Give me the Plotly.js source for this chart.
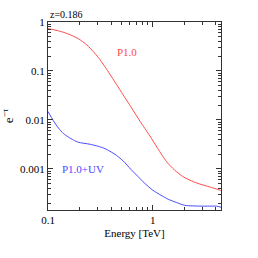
<!DOCTYPE html>
<html><head><meta charset="utf-8">
<script src="https://cdn.plot.ly/plotly-3.0.1.min.js"></script>
<style>html,body{margin:0;padding:0;background:#fff}</style>
</head><body><div id="chart" style="width:258px;height:258px"></div>
<script>
const energyRed = [0.1, 0.126, 0.156, 0.195, 0.235, 0.279, 0.314, 0.36, 0.405, 0.453, 0.52, 0.585, 0.653, 0.76, 0.942, 1.12, 1.36, 1.62, 1.96, 2.35, 2.83, 3.5, 4.38, 4.5];
const tauRed = [0.73, 0.66, 0.57, 0.457, 0.34, 0.232, 0.17, 0.112, 0.076, 0.0525, 0.033, 0.0224, 0.0155, 0.0093, 0.0047, 0.0026, 0.0014, 0.00095, 0.00069, 0.00057, 0.00049, 0.00043, 0.00037, 0.00036];
const energyBlue = [0.1, 0.112, 0.126, 0.14, 0.156, 0.175, 0.195, 0.25, 0.302, 0.35, 0.39, 0.45, 0.524, 0.62, 0.72, 0.83, 1.0, 1.2, 1.41, 1.7, 2.03, 2.4, 2.83, 3.5, 4.08, 4.5];
const tauBlue = [0.0149, 0.0098, 0.0068, 0.0053, 0.0045, 0.0039, 0.0035, 0.0032, 0.0029, 0.0026, 0.0023, 0.0019, 0.00145, 0.00098, 0.00071, 0.00052, 0.00037, 0.00029, 0.00024, 0.000205, 0.00018, 0.000176, 0.000174, 0.000174, 0.000174, 0.000165];
const xTickVals = [0.1, 1];
const xTickText = ['0.1', '1'];
const yTickVals = [1, 0.1, 0.01, 0.001];
const yTickText = ['1', '0.1', '0.01', '0.001'];
const xMinor = [0.2,0.3,0.4,0.5,0.6,0.7,0.8,0.9,2,3,4];
const yMinor = [2e-4,3e-4,4e-4,5e-4,6e-4,7e-4,8e-4,9e-4,0.002,0.003,0.004,0.005,0.006,0.007,0.008,0.009,0.02,0.03,0.04,0.05,0.06,0.07,0.08,0.09,0.2,0.3,0.4,0.5,0.6,0.7,0.8,0.9];

const font = {family: 'Liberation Serif, serif', size: 11, color: '#000'};
const traces = [
  {x: energyRed, y: tauRed, mode: 'lines', line: {color: '#ff4a4a', width: 1, shape: 'spline', smoothing: 0.6}, hoverinfo: 'skip'},
  {x: energyBlue, y: tauBlue, mode: 'lines', line: {color: '#4a4aff', width: 1, shape: 'spline', smoothing: 0.6}, hoverinfo: 'skip'}
];
const axisCommon = {
  type: 'log', showgrid: false, zeroline: false, showline: true, linecolor: '#333', linewidth: 1,
  mirror: 'allticks', ticks: 'inside', ticklen: 5, tickcolor: '#333', tickwidth: 1,
  tickmode: 'array', tickfont: font
};
const layout = {
  width: 258, height: 258,
  margin: {l: 48, r: 37, t: 22, b: 48},
  paper_bgcolor: '#fff', plot_bgcolor: '#fff',
  showlegend: false,
  font: font,
  xaxis: Object.assign({}, axisCommon, {
    range: [-1, Math.log10(4.5)], tickvals: xTickVals, ticktext: xTickText,
    minor: {tickmode: 'array', tickvals: xMinor, ticks: 'inside', ticklen: 3, tickcolor: '#333'},
    title: {text: 'Energy [TeV]', font: font, standoff: 4}
  }),
  yaxis: Object.assign({}, axisCommon, {
    range: [Math.log10(1.45e-4), 0], tickvals: yTickVals, ticktext: yTickText,
    minor: {tickmode: 'array', tickvals: yMinor, ticks: 'inside', ticklen: 3, tickcolor: '#333'},
    title: {text: 'e<sup>−τ</sup>', font: {family: 'Liberation Serif, serif', size: 13, color: '#000'}, standoff: 5}
  }),
  annotations: [
    {xref: 'paper', yref: 'paper', x: 0, y: 1, xanchor: 'left', yanchor: 'bottom', yshift: 0, text: 'z=0.186', showarrow: false, font: {family: 'Liberation Serif, serif', size: 10, color: '#000'}},
    {xref: 'x', yref: 'y', x: -0.245, y: -0.607, text: 'P1.0', showarrow: false, font: {family: 'Liberation Serif, serif', size: 11, color: '#ff4a4a'}},
    {xref: 'x', yref: 'y', x: -0.666, y: -3.0, text: 'P1.0+UV', showarrow: false, font: {family: 'Liberation Serif, serif', size: 11, color: '#4a4aff'}}
  ]
};
Plotly.newPlot('chart', traces, layout, {staticPlot: true, displayModeBar: false});
</script>
</body></html>
